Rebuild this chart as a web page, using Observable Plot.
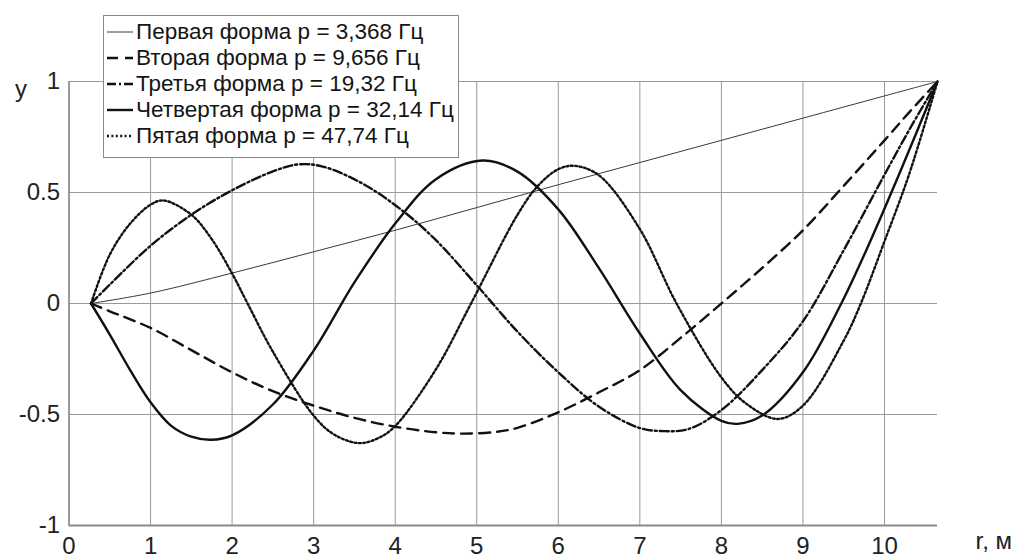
<!DOCTYPE html>
<html>
<head>
<meta charset="utf-8">
<script src="https://cdn.jsdelivr.net/npm/d3@7"></script>
<script src="https://cdn.jsdelivr.net/npm/@observablehq/plot@0.6"></script>
<style>
  body { margin: 0; background: #fff; }
  #wrap { position: relative; width: 1020px; height: 558px; font-family: "Liberation Sans", Arial, sans-serif; }
  #legend { position: absolute; left: 103px; top: 15px; width: 354px; height: 138px; border: 1px solid #8a8a8a; background: #fff; padding-top: 3px; box-sizing: content-box; }
  .row { height: 26px; line-height: 26px; font-size: 22.5px; color: #151515; white-space: nowrap; display: flex; align-items: center; }
  .row svg { margin-left: 3px; margin-right: 3px; flex: none; }
</style>
</head>
<body>
<div id="wrap"></div>
<script>
// Tick values
const xTicks = [0, 1, 2, 3, 4, 5, 6, 7, 8, 9, 10];
const yTicks = [-1, -0.5, 0, 0.5, 1];

// Series names
const names = [
  "Первая форма p = 3,368 Гц",
  "Вторая форма p = 9,656 Гц",
  "Третья форма p = 19,32 Гц",
  "Четвертая форма p = 32,14 Гц",
  "Пятая форма p = 47,74 Гц"
];

// Mode 1 (thin solid)
const r1 = [0.27, 1, 2, 3, 4, 5, 6, 7, 8, 9, 10, 10.65];
const y1 = [0, 0.047, 0.137, 0.233, 0.33, 0.432, 0.535, 0.635, 0.735, 0.835, 0.935, 1];

// Mode 2 (dashed)
const r2 = [0.27, 0.5, 1, 1.5, 2, 2.5, 3, 3.5, 4, 4.5, 4.8, 5.2, 5.5, 6, 6.5, 7, 7.5, 8, 8.5, 9, 9.5, 10, 10.3, 10.65];
const y2 = [0, -0.035, -0.11, -0.21, -0.31, -0.395, -0.46, -0.515, -0.555, -0.58, -0.586, -0.58, -0.56, -0.49, -0.4, -0.3, -0.155, 0, 0.16, 0.33, 0.53, 0.735, 0.86, 1];

// Mode 3 (dash-dot)
const r3 = [0.27, 0.5, 1, 1.5, 2, 2.5, 2.8, 3.1, 3.6, 4.1, 4.5, 5, 5.5, 6, 6.5, 7, 7.3, 7.6, 8, 8.5, 9, 9.5, 10, 10.3, 10.65];
const y3 = [0, 0.085, 0.26, 0.4, 0.51, 0.595, 0.626, 0.618, 0.54, 0.415, 0.285, 0.082, -0.127, -0.31, -0.465, -0.561, -0.575, -0.565, -0.48, -0.3, -0.08, 0.24, 0.58, 0.78, 1];

// Mode 4 (thick solid)
const r4 = [0.27, 0.5, 0.75, 1, 1.25, 1.5, 1.74, 2, 2.5, 3, 3.5, 4, 4.5, 5.07, 5.5, 6, 6.5, 7, 7.5, 8, 8.2, 8.5, 9, 9.47, 9.83, 10.2, 10.65];
const y4 = [0, -0.14, -0.3, -0.445, -0.55, -0.6, -0.614, -0.594, -0.455, -0.212, 0.095, 0.36, 0.56, 0.644, 0.594, 0.424, 0.158, -0.135, -0.39, -0.529, -0.542, -0.505, -0.31, 0, 0.284, 0.6, 1];

// Mode 5 (dotted)
const r5 = [0.27, 0.5, 0.75, 1, 1.16, 1.5, 1.75, 2, 2.19, 2.5, 3, 3.25, 3.56, 3.8, 4, 4.5, 4.93, 5.5, 5.75, 6, 6.2, 6.5, 7, 7.45, 8, 8.3, 8.69, 9, 9.5, 9.71, 10, 10.3, 10.65];
const y5 = [0, 0.22, 0.36, 0.445, 0.464, 0.4, 0.29, 0.135, 0, -0.217, -0.505, -0.59, -0.629, -0.605, -0.552, -0.296, 0, 0.4, 0.53, 0.605, 0.62, 0.577, 0.335, 0, -0.333, -0.45, -0.52, -0.46, -0.167, 0, 0.28, 0.58, 1];

const styles = [
  {stroke: "#3a3a3a", strokeWidth: 1, dash: null},
  {stroke: "#111", strokeWidth: 2.4, dash: "11,7"},
  {stroke: "#111", strokeWidth: 2.4, dash: "9,3,2,3"},
  {stroke: "#111", strokeWidth: 2.4, dash: null},
  {stroke: "#111", strokeWidth: 2.4, dash: "2,2.4"}
];

const rs = [r1, r2, r3, r4, r5];
const ys = [y1, y2, y3, y4, y5];
const series = rs.map((r, i) => r.map((x, j) => ({x, y: ys[i][j]})));

const lineMarks = series.map((data, i) => Plot.line(data, {
  x: "x", y: "y", curve: "catmull-rom",
  stroke: styles[i].stroke, strokeWidth: styles[i].strokeWidth,
  strokeDasharray: styles[i].dash || undefined
}));

const chart = Plot.plot({
  width: 1020,
  height: 558,
  marginLeft: 68.5,
  marginRight: 83,
  marginTop: 81,
  marginBottom: 33,
  x: {domain: [0, 10.65]},
  y: {domain: [-1, 1]},
  style: {fontFamily: "'Liberation Sans', Arial, sans-serif", background: "white", color: "#222"},
  marks: [
    Plot.gridX(xTicks, {stroke: "#9a9a9a", strokeOpacity: 1, strokeWidth: 1}),
    Plot.gridY(yTicks, {stroke: "#9a9a9a", strokeOpacity: 1, strokeWidth: 1}),
    Plot.ruleX([0], {stroke: "#8a8a8a", strokeWidth: 1.5}),
    Plot.ruleY([-1], {stroke: "#8a8a8a", strokeWidth: 1.8}),
    Plot.axisX(xTicks, {tickSize: 0, tickPadding: 11, fontSize: 24, label: null, tickFormat: d => String(d)}),
    Plot.axisY(yTicks, {tickSize: 0, tickPadding: 9, fontSize: 24, label: null, tickFormat: d => String(d)}),
    ...lineMarks,
    Plot.text(["y"], {text: d => d, frameAnchor: "top-left", textAnchor: "start", dx: -54, dy: -2, fontSize: 24, fill: "#222"}),
    Plot.text(["r, м"], {text: d => d, frameAnchor: "bottom-right", textAnchor: "start", dx: 38, dy: 23, fontSize: 24, fill: "#222"})
  ]
});

const wrap = document.getElementById("wrap");
wrap.appendChild(chart);

// Legend
const legend = document.createElement("div");
legend.id = "legend";
names.forEach((name, i) => {
  const row = document.createElement("div");
  row.className = "row";
  const s = styles[i];
  const ns = "http://www.w3.org/2000/svg";
  const svg = document.createElementNS(ns, "svg");
  svg.setAttribute("width", "26");
  svg.setAttribute("height", "10");
  const ln = document.createElementNS(ns, "line");
  ln.setAttribute("x1", "0"); ln.setAttribute("x2", "26");
  ln.setAttribute("y1", "5"); ln.setAttribute("y2", "5");
  ln.setAttribute("stroke", s.stroke);
  ln.setAttribute("stroke-width", s.strokeWidth);
  if (s.dash) ln.setAttribute("stroke-dasharray", s.dash);
  svg.appendChild(ln);
  row.appendChild(svg);
  const span = document.createElement("span");
  span.textContent = name;
  row.appendChild(span);
  legend.appendChild(row);
});
wrap.appendChild(legend);
</script>
</body>
</html>
